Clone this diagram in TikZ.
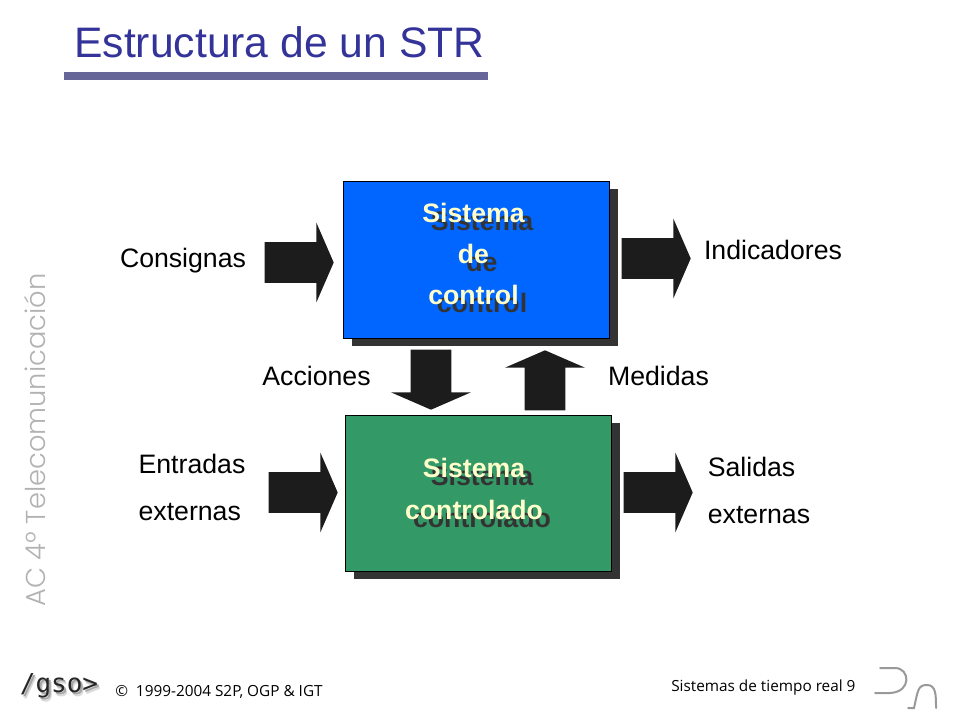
\documentclass[tikz,border=0pt]{standalone}
\usepackage{fontspec}
\setmainfont{Liberation Sans}
\newfontfamily\sidefont{Poppins Light}
\newfontfamily\footfont{Open Sans}
\newfontfamily\logofont{DejaVu Sans Mono}
\usetikzlibrary{shapes.arrows}
\definecolor{titleblue}{HTML}{333399}
\definecolor{rulegray}{HTML}{666699}
\definecolor{ctrlblue}{HTML}{0066FF}
\definecolor{plantgreen}{HTML}{339966}
\definecolor{shadowgray}{HTML}{333333}
\definecolor{arrowblack}{HTML}{1C1C1C}
\definecolor{boxtext}{HTML}{FFFFCC}
\tikzset{
	sysbox/.style={rectangle, draw=black, line width=0.75pt, fill=#1, minimum width=199.5pt, minimum height=117pt, inner sep=0pt},
	sysshadow/.style={rectangle, fill=shadowgray, minimum width=199.5pt, minimum height=117pt, inner sep=0pt},
	systext/.style={align=center, text=#1, font=\bfseries\fontsize{20}{31}\selectfont, inner sep=0pt},
	flowtext/.style={font=\fontsize{20}{24}\selectfont, inner sep=0pt, anchor=base},
	twotext/.style={align=left, font=\fontsize{20}{35}\selectfont, inner sep=0pt},
	blockarrow/.style={single arrow, fill=arrowblack, inner xsep=0pt, inner ysep=15pt, anchor=tip, minimum height=51.75pt, minimum width=59.25pt, single arrow head extend=14.6pt, single arrow tip angle=133, shape border rotate=#1},
	uprightarrow/.style={blockarrow=#1, inner xsep=15pt, inner ysep=0pt, minimum height=45pt},
	footnote/.style={font=\footfont\fontsize{11.5}{14}\selectfont, inner sep=0pt, anchor=base west},
	logotext/.style={anchor=base, inner sep=0pt, text=#1, font=\logofont\fontsize{19.5}{24}\selectfont}
}
\begin{document}
\begin{tikzpicture}[x=0.75pt,y=-0.75pt]
	\useasboundingbox (0,0) rectangle (960,720);
	% title
	\node (title) at (74, 58)	[anchor=base west, inner sep=0pt, text=titleblue, font=\fontsize{32}{38}\selectfont]	{Estructura de un STR};
	\node (titlerule) at (276, 76)	[rectangle, fill=rulegray, minimum width=318pt, minimum height=6pt, inner sep=0pt]	{};
	% side text
	\node (side) at (35, 440)	[rotate=90, inner sep=0pt, text=gray!60, font=\sidefont\fontsize{20.5}{24}\selectfont]	{AC 4º Telecomunicación};
	% boxes
	\node (ctrlshadow) at (484.5, 267.5)	[sysshadow]	{};
	\node (ctrl) at (476.25, 260)	[sysbox=ctrlblue]	{};
	\node (plantshadow) at (487, 501)	[sysshadow]	{};
	\node (plant) at (478.75, 493.75)	[sysbox=plantgreen]	{};
	\node (ctrlback) at (482, 262)	[systext=shadowgray]	{Sistema\\de\\control};
	\node (ctrlfront) at (473.5, 254)	[systext=boxtext]	{Sistema\\de\\control};
	\node (plantback) at (482, 497)	[systext=shadowgray]	{Sistema\\controlado};
	\node (plantfront) at (474, 489)	[systext=boxtext]	{Sistema\\controlado};
	% block arrows
	\node (consarrow) at (334, 262.5)	[blockarrow=0]	{};
	\node (indarrow) at (691, 258.5)	[blockarrow=0]	{};
	\node (entarrow) at (338, 492.5)	[blockarrow=0]	{};
	\node (salarrow) at (693, 492.5)	[blockarrow=0]	{};
	\node (accarrow) at (431, 410)	[uprightarrow=270]	{};
	\node (medarrow) at (545, 350)	[uprightarrow=90]	{};
	% labels
	\node (cons) at (183, 268)	[flowtext]	{Consignas};
	\node (ind) at (773, 260)	[flowtext]	{Indicadores};
	\node (acc) at (316.5, 385)	[flowtext]	{Acciones};
	\node (med) at (658.5, 385)	[flowtext]	{Medidas};
	\node (ent) at (192, 487.5)	[twotext]	{Entradas\\externas};
	\node (sal) at (759, 490.5)	[twotext]	{Salidas\\externas};
	% footer
	\node (gsoblur) at (62, 696)	[logotext=gray!30]	{/gso>};
	\node (gsoshade) at (61, 694)	[logotext=gray!70]	{/gso>};
	\node (gso) at (59, 692)	[logotext=black!85]	{/gso>};
	\node (copy) at (115, 696)	[footnote]	{©\ \ 1999-2004 S2P, OGP \& IGT};
	\node (page) at (671, 691)	[footnote]	{Sistemas de tiempo real\ 9};
	% corner mark
	\draw[gray!80, line width=1.5pt, line cap=round] (880,668) -- (895,668) .. controls (910,668) and (912,692) .. (890,693) -- (875,693);
	\draw[gray!80, line width=1.5pt, line cap=round] (908,708) -- (914,708) .. controls (918,690) and (918,685) .. (927,685) .. controls (936,685) and (936,695) .. (936,708);
\end{tikzpicture}
\end{document}
